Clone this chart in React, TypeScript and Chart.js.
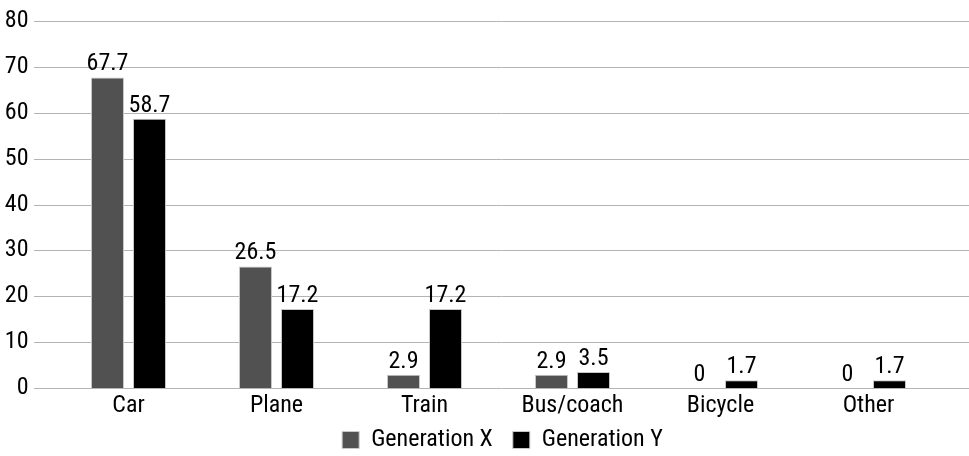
import React, { useEffect, useRef } from "react";
import { Chart, registerables } from "chart.js";

Chart.register(...registerables);

const categories = ["Car", "Plane", "Train", "Bus/coach", "Bicycle", "Other"];
const generationX = [67.7, 26.5, 2.9, 2.9, 0, 0];
const generationY = [58.7, 17.2, 17.2, 3.5, 1.7, 1.7];
const seriesNames = ["Generation X", "Generation Y"];
const seriesColors = ["#515151", "#000000"];
const yTicks = [0, 10, 20, 30, 40, 50, 60, 70, 80];

const FONT = "'Roboto Condensed', 'Liberation Sans Narrow', Roboto, sans-serif";
const FS = 24;

const gridPlugin = {
  id: "extGrid",
  beforeLayout(chart: any) {
    const lg = chart.legend;
    if (lg && !lg._patched) {
      const origFit = lg.fit.bind(lg);
      lg.fit = function () {
        origFit();
        this.height = 34;
      };
      const origDraw = lg.draw.bind(lg);
      lg.draw = function () {
        const t = this.top;
        const l = this.left;
        const r = this.right;
        this.top = t - 14;
        this.left = l + 4;
        this.right = r + 4;
        origDraw();
        this.top = t;
        this.left = l;
        this.right = r;
      };
      lg._patched = true;
    }
  },
  beforeDatasetsDraw(chart: any) {
    const { ctx, scales } = chart;
    const y = scales.y;
    ctx.save();
    ctx.strokeStyle = "#b4b4b4";
    ctx.lineWidth = 1;
    for (const t of yTicks) {
      const py = Math.round(y.getPixelForValue(t)) + 0.5;
      ctx.beginPath();
      ctx.moveTo(34, py);
      ctx.lineTo(chart.width, py);
      ctx.stroke();
    }
    ctx.restore();
  },
};

const labelPlugin = {
  id: "valLabels",
  afterDatasetsDraw(chart: any) {
    const { ctx } = chart;
    ctx.save();
    ctx.font = `${FS}px ${FONT}`;
    ctx.fillStyle = "#000";
    ctx.textAlign = "center";
    ctx.textBaseline = "alphabetic";
    chart.data.datasets.forEach((ds: any, di: number) => {
      const meta = chart.getDatasetMeta(di);
      meta.data.forEach((bar: any, i: number) => {
        ctx.fillText(String(ds.data[i]), bar.x, bar.y - 7);
      });
    });
    ctx.restore();
  },
};

export default function App() {
  const ref = useRef<HTMLCanvasElement>(null);
  useEffect(() => {
    document.body.style.margin = "0";
    const chart = new Chart(ref.current!, {
      type: "bar",
      data: {
        labels: categories,
        datasets: [generationX, generationY].map((d, i) => ({
          label: seriesNames[i],
          data: d,
          backgroundColor: seriesColors[i],
          borderColor: "#c8c8c8",
          borderWidth: 1,
          categoryPercentage: 0.5676,
          barPercentage: 0.786,
        })),
      },
      options: {
        animation: false,
        responsive: false,
        layout: { padding: { top: 21, right: 26.5, left: 0, bottom: 0 } },
        plugins: {
          tooltip: { enabled: false },
          legend: {
            position: "bottom",
            fullSize: false,
            labels: {
              boxWidth: 17,
              boxHeight: 17,
              padding: 20,
              color: "#000",
              font: { family: FONT, size: FS },
            },
          },
        },
        scales: {
          x: {
            grid: { display: false, drawTicks: false },
            border: { display: false },
            ticks: { color: "#000", font: { family: FONT, size: FS }, padding: 4 },
            afterFit: (s: any) => { s.height = 34; },
          },
          y: {
            min: 0,
            max: 80,
            grid: { display: false, drawTicks: false },
            border: { display: false },
            ticks: { stepSize: 10, color: "#000", font: { family: FONT, size: FS }, padding: 26 },
            afterFit: (s: any) => {
              s.width = 54.5;
              s.paddingTop = 0;
              s.paddingBottom = 0;
            },
          },
        },
      },
      plugins: [gridPlugin, labelPlugin],
    });
    return () => chart.destroy();
  }, []);
  return <canvas ref={ref} width={969} height={456} style={{ display: "block" }} />;
}
